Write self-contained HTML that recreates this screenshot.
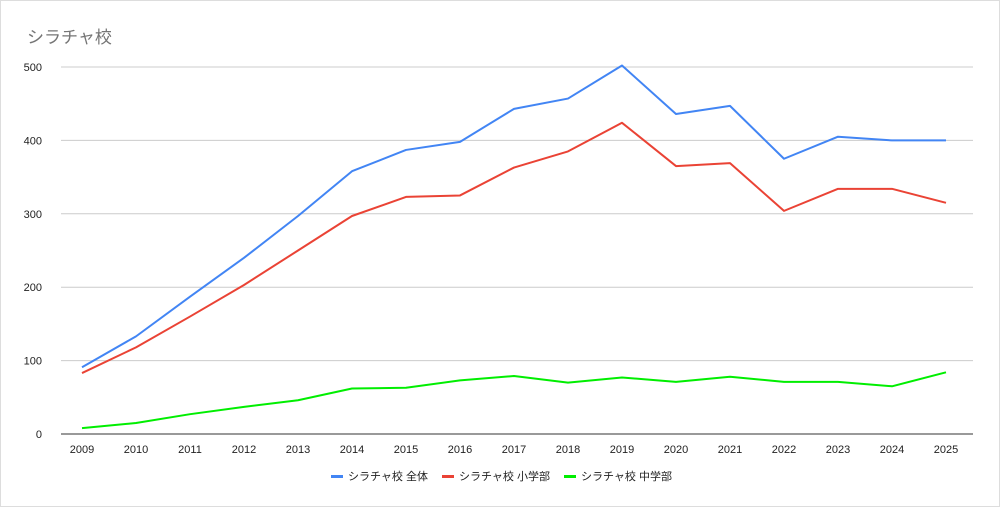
<!DOCTYPE html>
<html><head><meta charset="utf-8">
<style>
body{margin:0;background:#fff;}
#wrap{position:relative;width:998px;height:505px;border:1px solid #ddd;background:#fff;font-family:"Liberation Sans","Noto Sans CJK JP",sans-serif;}
#title{position:absolute;left:26px;top:22px;font-size:17px;color:#757575;}
</style></head>
<body>
<div id="wrap">
<div id="title">シラチャ校</div>
<svg id="chart" width="998" height="505" style="position:absolute;left:0;top:0"></svg>
</div>
<script>
const years=[2009,2010,2011,2012,2013,2014,2015,2016,2017,2018,2019,2020,2021,2022,2023,2024,2025];
const totalVals=[91,133,187,240,297,358,387,398,443,457,502,436,447,375,405,400,400];
const elemVals=[83,118,160,203,250,297,323,325,363,385,424,365,369,304,334,334,315];
const midVals=[8,15,27,37,46,62,63,73,79,70,77,71,78,71,71,65,84];
const yTicks=[0,100,200,300,400,500];
const seriesNames=["シラチャ校 全体","シラチャ校 小学部","シラチャ校 中学部"];
const colors=["#4285f4","#ea4335","#00ee00"];
const NS="http://www.w3.org/2000/svg";
const svg=document.getElementById('chart');
const x0=81,x1=945,yb=433,yt=66;
function xs(i){return x0+(x1-x0)*i/(years.length-1);}
function ys(v){return yb-(yb-yt)*v/500;}
function mk(t,a){const e=document.createElementNS(NS,t);for(const k in a)e.setAttribute(k,a[k]);svg.appendChild(e);return e;}
yTicks.forEach(v=>{
  const l=mk('line',{x1:60,x2:972,y1:ys(v),y2:ys(v),stroke:v===0?'#333':'#ccc','stroke-width':1});
  
  
  const t=mk('text',{x:41,y:ys(v)+4,'text-anchor':'end','font-size':11,fill:'#222'});
  t.textContent=v;
  
  
});
years.forEach((y,i)=>{
  const t=mk('text',{x:xs(i),y:452,'text-anchor':'middle','font-size':11,fill:'#222'});
  t.textContent=y;
  
  
});
[totalVals,elemVals,midVals].forEach((vals,s)=>{
  const p=mk('polyline',{points:vals.map((v,i)=>xs(i)+','+ys(v)).join(' '),fill:'none',stroke:colors[s],'stroke-width':2,'stroke-linejoin':'round'});
  
  
});
const lx=[330,441,563];
seriesNames.forEach((n,s)=>{
  const r=mk('rect',{x:lx[s],y:474,width:12,height:3,fill:colors[s]});
  
  
  const t=mk('text',{x:lx[s]+17,y:479,'font-size':11,fill:'#222'});
  t.textContent=n;
  
  
});
</script>
</body></html>
